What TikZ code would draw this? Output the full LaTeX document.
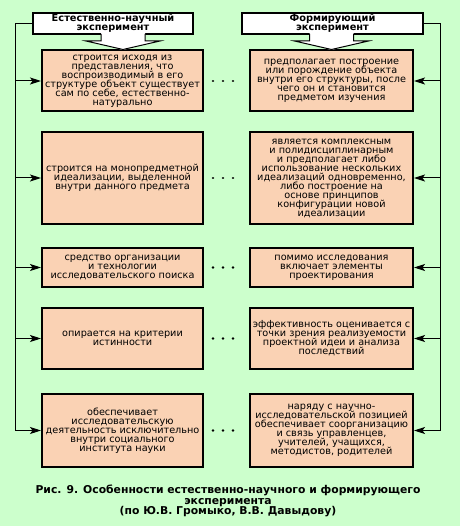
\documentclass[tikz,border=0pt]{standalone}
\usepackage{fontspec}
\setmainfont{DejaVu Sans}
\usetikzlibrary{arrows.meta}
\definecolor{bgc}{RGB}{204,255,204}
\definecolor{boxc}{RGB}{250,210,180}
\newcommand\tightlines{\lineskiplimit=-5pt\relax}
\tikzset{
  every picture/.style={x=1pt,y=-1pt},
  txt/.style={font=\fontsize{9.7}{9.0}\selectfont\tightlines, align=center, inner sep=0pt},
  cellbox/.style={txt, draw=black, line width=2pt, fill=boxc, minimum width=#1},
  headbox/.style={draw=black, line width=2pt, fill=white, font=\bfseries\fontsize{9.8}{9.5}\selectfont\tightlines, align=center, inner sep=0pt, minimum height=21pt},
  conn/.style={line width=1pt, draw=black},
  arr/.style={conn, -{Stealth[length=11pt,width=7pt,inset=2.5pt]}},
  dotsline/.style={line width=2.6pt, line cap=round, dash pattern=on 0.01pt off 9.99pt, shorten <=9pt, shorten >=7pt},
  blockarrow/.style={fill=white, draw=black, line width=1pt}
}
\begin{document}
\begin{tikzpicture}
\useasboundingbox[fill=bgc] (0,0) rectangle (460,526);

% headers
\node[headbox, minimum width=160pt] (hL) at (113,23.5) {Естественно-научный\\эксперимент};
\node[headbox, minimum width=181pt] (hR) at (332.5,23.5) {Формирующий\\эксперимент};

% left column
\node[cellbox=161pt, minimum height=61pt] (L1) at (122.5,81) {строится исходя из\\представления, что\\воспроизводимый в его\\структуре объект существует\\сам по себе, естественно-\\натурально};
\node[cellbox=161pt, minimum height=92pt] (L2) at (122.5,178) {строится на монопредметной\\идеализации, выделенной\\внутри данного предмета};
\node[cellbox=161pt, minimum height=39pt] (L3) at (122.5,267.5) {средство организации\\и технологии\\исследовательского поиска};
\node[cellbox=161pt, minimum height=61pt] (L4) at (122.5,338.5) {опирается на критерии\\истинности};
\node[cellbox=161pt, minimum height=73pt] (L5) at (122.5,430.5) {обеспечивает\\исследовательскую\\деятельность исключительно\\внутри социального\\института науки};

% right column
\node[cellbox=163pt, minimum height=61pt] (R1) at (331.5,81) {предполагает построение\\или порождение объекта\\внутри его структуры, после\\чего он и становится\\предметом изучения};
\node[cellbox=163pt, minimum height=92pt] (R2) at (331.5,178) {является комплексным\\и полидисциплинарным\\и предполагает либо\\использование нескольких\\идеализаций одновременно,\\либо построение на\\основе принципов\\конфигурации новой\\идеализации};
\node[cellbox=163pt, minimum height=39pt] (R3) at (331.5,267.5) {помимо исследования\\включает элементы\\проектирования};
\node[cellbox=163pt, minimum height=61pt] (R4) at (331.5,338.5) {эффективность оценивается с\\точки зрения реализуемости\\проектной идеи и анализа\\последствий};
\node[cellbox=163pt, minimum height=73pt] (R5) at (331.5,430.5) {наряду с научно-\\исследовательской позицией\\обеспечивает соорганизацию\\и связь управленцев,\\учителей, учащихся,\\методистов, родителей};

% block arrows under headers
\foreach \c in {123,331.5}{
  \fill[white] (\c-22,32) -- (\c-22,41) -- (\c-37,41) -- (\c,50) -- (\c+37,41) -- (\c+22,41) -- (\c+22,32) -- cycle;
  \draw[blockarrow] (\c-22,34) -- (\c-22,41) -- (\c-37,41) -- (\c,49.5) -- (\c+37,41) -- (\c+22,41) -- (\c+22,34);
}

% left bus
\coordinate (lt) at (15,23.5);
\coordinate (lb) at (15,430.5);
\draw[conn] (hL.west) -- (lt) -- (lb);
\foreach \b in {L1,L2,L3,L4,L5}{
  \draw[arr] (\b.west -| lt) -- (\b.west);
}
% right bus
\coordinate (rt) at (440,23.5);
\coordinate (rb) at (440,430.5);
\draw[conn] (hR.east) -- (rt) -- (rb);
\foreach \b in {R1,R2,R3,R4,R5}{
  \draw[arr] (\b.east -| rt) -- (\b.east);
}

% dots
\foreach \i in {1,...,5}{
  \draw[dotsline] (L\i.east) -- (L\i.east -| R\i.west);
}

% caption
\node[font=\bfseries\fontsize{10.8}{10.5}\selectfont\tightlines, align=center, inner sep=0pt] (cap) at (228,501) {Рис. 9. Особенности естественно-научного и формирующего\\эксперимента\\(по Ю.В. Громыко, В.В. Давыдову)};
\end{tikzpicture}
\end{document}
